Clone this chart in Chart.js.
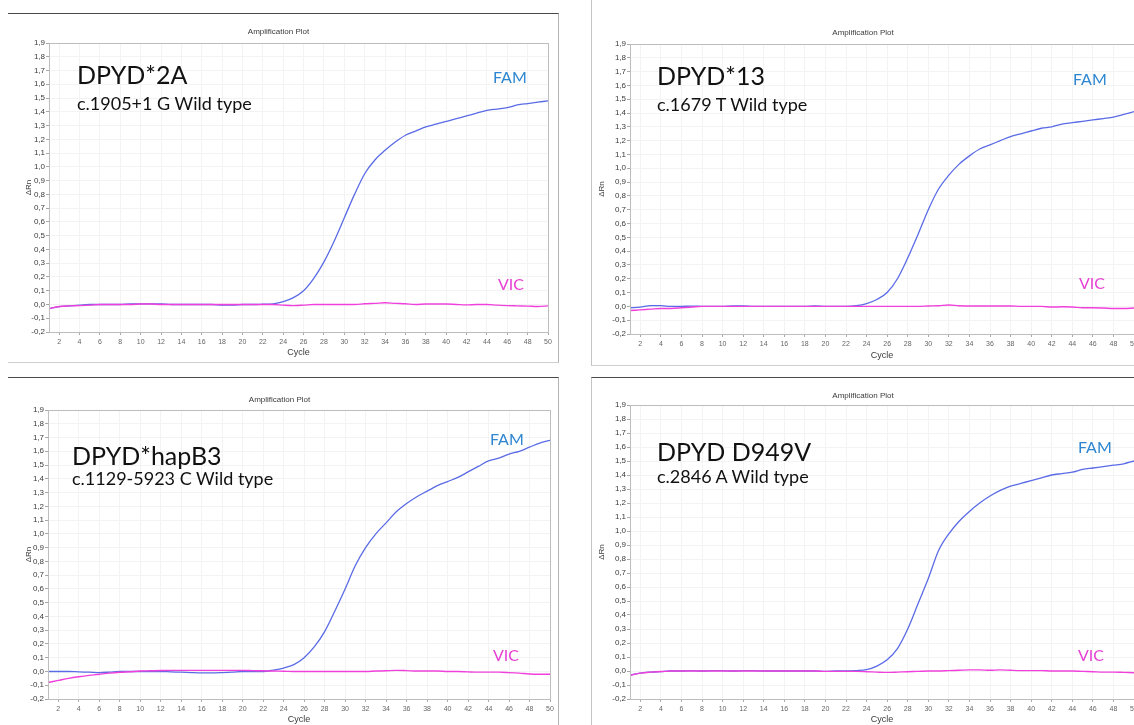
<!DOCTYPE html>
<html>
<head>
<meta charset="utf-8">
<script src="https://cdn.jsdelivr.net/npm/chart.js@4.4.0/dist/chart.umd.min.js"></script>
<style>
  body { margin: 0; width: 1134px; height: 725px; overflow: hidden; background: #fff; position: relative; font-family: Lato, 'Open Sans', sans-serif; }
  .frame { position: absolute; box-sizing: border-box; }
  canvas { position: absolute; }
  .lbl { position: absolute; line-height: 1; white-space: nowrap; }
  .gene { font-size: 25px; color: #111; }
  .allele { font-size: 18px; color: #111; }
  .fam { font-size: 16px; color: #2e86d1; }
  .vic { font-size: 16px; color: #e63fd3; }
</style>
</head>
<body>

<div class="frame" style="left:8px;top:13px;width:551px;height:350px;border-top:1px solid #4a4a4a;border-right:1px solid #b4b4b4;border-bottom:1px solid #cfcfcf"></div>
<div class="frame" style="left:591px;top:-1px;width:600px;height:367px;border-left:1px solid #c4c4c4;border-bottom:1px solid #cfcfcf"></div>
<div class="frame" style="left:8px;top:377px;width:551px;height:400px;border-top:1px solid #4a4a4a;border-right:1px solid #b4b4b4"></div>
<div class="frame" style="left:591px;top:377px;width:600px;height:400px;border-top:1px solid #4a4a4a;border-left:1px solid #c4c4c4"></div>

<canvas id="c1" width="548" height="347" style="left:9px;top:14px"></canvas>
<canvas id="c2" width="560" height="365" style="left:592px;top:0px"></canvas>
<canvas id="c3" width="548" height="347" style="left:9px;top:378px"></canvas>
<canvas id="c4" width="560" height="347" style="left:592px;top:378px"></canvas>

<div class="lbl gene" style="left:77px;top:62px">DPYD*2A</div>
<div class="lbl allele" style="left:77px;top:94px">c.1905+1 G Wild type</div>
<div class="lbl fam" style="left:493px;top:69px">FAM</div>
<div class="lbl vic" style="left:498px;top:276px">VIC</div>

<div class="lbl gene" style="left:657px;top:63px">DPYD*13</div>
<div class="lbl allele" style="left:657px;top:95px">c.1679 T Wild type</div>
<div class="lbl fam" style="left:1073px;top:71px">FAM</div>
<div class="lbl vic" style="left:1079px;top:275px">VIC</div>

<div class="lbl gene" style="left:72px;top:443px">DPYD*hapB3</div>
<div class="lbl allele" style="left:72px;top:469px">c.1129-5923 C Wild type</div>
<div class="lbl fam" style="left:490px;top:431px">FAM</div>
<div class="lbl vic" style="left:493px;top:647px">VIC</div>

<div class="lbl gene" style="left:657px;top:439px">DPYD D949V</div>
<div class="lbl allele" style="left:657px;top:467px">c.2846 A Wild type</div>
<div class="lbl fam" style="left:1078px;top:439px">FAM</div>
<div class="lbl vic" style="left:1078px;top:647px">VIC</div>

<script>
/* ── data ── */
const cycles = [1,2,3,4,5,6,7,8,9,10,11,12,13,14,15,16,17,18,19,20,21,22,23,24,25,
                26,27,28,29,30,31,32,33,34,35,36,37,38,39,40,41,42,43,44,45,46,47,48,49,50];
const cycleTicks = [2,4,6,8,10,12,14,16,18,20,22,24,26,28,30,32,34,36,38,40,42,44,46,48,50];
const yMin = -0.2;
const yMax = 1.9;

// DPYD*2A
const fam2A = [-0.03,-0.015,-0.01,-0.005,0,0,0,0,0.005,0.005,
               0.005,0.005,0,0,0,0,0,-0.005,-0.005,0,
               0,0.002,0.005,0.02,0.05,0.1,0.19,0.31,0.46,0.63,
               0.8,0.95,1.05,1.12,1.18,1.23,1.26,1.29,1.31,1.33,
               1.35,1.37,1.39,1.41,1.42,1.43,1.45,1.46,1.47,1.48];
const vic2A = [-0.03,-0.015,-0.01,-0.008,-0.005,0,0,0,0,0.003,
               0.003,0,0,0,0,0,0,0,0,0,
               0,0,0,-0.005,-0.008,-0.005,0,0,0,0,
               0,0.005,0.008,0.012,0.008,0.005,0,0.003,0.003,0.003,
               0,-0.003,0,0,-0.005,-0.008,-0.01,-0.012,-0.015,-0.01];

// DPYD*13
const fam13 = [-0.01,-0.005,0.005,0.005,0,0,0.002,0,0,0,
               0.003,0.003,0,0,0,0,0,0,0.003,0,
               0,0,0.005,0.02,0.05,0.1,0.2,0.35,0.52,0.7,
               0.85,0.95,1.03,1.09,1.14,1.17,1.2,1.23,1.25,1.27,
               1.29,1.3,1.32,1.33,1.34,1.35,1.36,1.37,1.39,1.41];
const vic13 = [-0.03,-0.025,-0.02,-0.015,-0.015,-0.01,-0.005,0,0,0,
               0,0,0,0,0,0,0,0,0,0,
               0,0,0,0,0,0,0,0,0,0.003,
               0.005,0.01,0.005,0.003,0.003,0.003,0.003,0.003,0,0,
               0,-0.005,-0.003,-0.005,-0.01,-0.01,-0.012,-0.015,-0.015,-0.012];

// DPYD*hapB3
const famB3 = [0,0,0,-0.003,-0.005,-0.008,-0.005,0,0,0,
               0,0,-0.003,-0.005,-0.008,-0.01,-0.01,-0.008,-0.005,0,
               0,0,0.01,0.025,0.05,0.1,0.18,0.29,0.44,0.6,
               0.77,0.9,1.0,1.08,1.16,1.22,1.27,1.31,1.35,1.38,
               1.41,1.45,1.49,1.53,1.55,1.58,1.6,1.63,1.66,1.68];
const vicB3 = [-0.08,-0.065,-0.05,-0.038,-0.028,-0.02,-0.012,-0.006,-0.002,0.003,
               0.005,0.007,0.008,0.008,0.008,0.008,0.008,0.008,0.008,0.008,
               0.006,0.005,0.003,0.002,0,0,0,0,0,0,
               0,0,0.003,0.005,0.008,0.006,0.003,0.003,0.003,0,
               0,-0.003,-0.005,-0.005,-0.005,-0.008,-0.012,-0.018,-0.02,-0.02];

// DPYD D949V
const famD949V = [-0.03,-0.015,-0.008,-0.004,0,0,0.003,0,0.003,0.003,
                  0,0.003,0.003,0,0,0,0,0,0,-0.003,
                  0,0,0.003,0.01,0.035,0.08,0.16,0.3,0.48,0.66,
                  0.86,0.98,1.07,1.14,1.2,1.25,1.29,1.32,1.34,1.36,
                  1.38,1.4,1.41,1.42,1.44,1.45,1.46,1.47,1.48,1.5];
const vicD949V = [-0.03,-0.015,-0.008,-0.004,0,0,0,0,0,0,
                  0,0,0,0,0,0,0,0,0,-0.003,
                  -0.003,-0.003,-0.003,-0.005,-0.008,-0.01,-0.008,-0.005,-0.003,0,
                  0,0.003,0.005,0.008,0.008,0.005,0.008,0.005,0.003,0.003,
                  0.003,0,0,0,-0.003,-0.005,-0.008,-0.008,-0.01,-0.012];

/* ── style ── */
const FAM_LINE = '#5a6be6';
const VIC_LINE = '#f040dc';
const GRID     = '#f3f3f3';
const AXIS     = '#a8a8a8';
const TXT      = '#3a3a3a';
const FONT     = "Arial, 'Liberation Sans', sans-serif";

// page geometry of each panel: canvas box, plot area, title / axis title positions
const panels = [
  { id: 'c1', fam: fam2A,    vic: vic2A,    cx: 9,   cy: 14,  ch: 347, area: { l: 49,  t: 43,  r: 548,  b: 332 }, titleY: 32,  cycleY: 353, rnX: 29 },
  { id: 'c2', fam: fam13,    vic: vic13,    cx: 592, cy: 0,   ch: 365, area: { l: 630, t: 44,  r: 1134, b: 334 }, titleY: 33,  cycleY: 356, rnX: 602 },
  { id: 'c3', fam: famB3,    vic: vicB3,    cx: 9,   cy: 378, ch: 347, area: { l: 48,  t: 410, r: 550,  b: 699 }, titleY: 400, cycleY: 721, rnX: 29 },
  { id: 'c4', fam: famD949V, vic: vicD949V, cx: 592, cy: 378, ch: 347, area: { l: 630, t: 405, r: 1134, b: 699 }, titleY: 396, cycleY: 721, rnX: 602 }
];

const plotFrame = {
  id: 'plotFrame',
  afterDraw(chart) {
    const a = chart.chartArea, ctx = chart.ctx;
    ctx.save();
    ctx.strokeStyle = '#bdbdbd';
    ctx.lineWidth = 1;
    ctx.strokeRect(Math.round(a.left) + 0.5, Math.round(a.top) + 0.5, Math.round(a.right - a.left), Math.round(a.bottom - a.top));
    ctx.restore();
  }
};

function makePanel(p) {
  const el = document.getElementById(p.id);
  const yAxisW = p.area.l - p.cx;
  const titleH = p.area.t - p.cy;
  const xAxisH = p.cy + p.ch - p.area.b;
  const padR = p.cx + el.width - p.area.r;
  const tTop = p.titleY - p.cy - 4.8;

  new Chart(el, {
    type: 'line',
    data: {
      labels: cycles,
      datasets: [
        {
          label: 'VIC',
          data: cycles.map((c, i) => ({ x: c, y: p.vic[i] })),
          borderColor: VIC_LINE,
          borderWidth: 1.4,
          pointRadius: 0,
          cubicInterpolationMode: 'monotone',
          order: 0
        },
        {
          label: 'FAM',
          data: cycles.map((c, i) => ({ x: c, y: p.fam[i] })),
          borderColor: FAM_LINE,
          borderWidth: 1.3,
          pointRadius: 0,
          cubicInterpolationMode: 'monotone',
          order: 1
        }
      ]
    },
    options: {
      responsive: false,
      animation: false,
      events: [],
      layout: { padding: { left: 0, top: 0, right: padR, bottom: 0 } },
      plugins: {
        legend: { display: false },
        tooltip: { enabled: false },
        title: {
          display: true,
          text: 'Amplification Plot',
          color: TXT,
          font: { family: FONT, size: 8, weight: 'normal' },
          padding: { top: tTop, bottom: titleH - tTop - 9.6 }
        }
      },
      scales: {
        x: {
          type: 'linear',
          min: 1,
          max: 50,
          afterBuildTicks: axis => { axis.ticks = cycleTicks.map(v => ({ value: v })); },
          afterFit: s => { s.height = xAxisH; },
          grid: { color: GRID, tickColor: AXIS, tickLength: 3 },
          border: { color: AXIS },
          ticks: { color: '#666', font: { family: FONT, size: 7 }, padding: 3, maxRotation: 0, autoSkip: false },
          title: {
            display: true,
            text: 'Cycle',
            color: TXT,
            font: { family: FONT, size: 9 },
            padding: { top: 0, bottom: Math.max(0, p.cy + p.ch - p.cycleY - 5.4) }
          }
        },
        y: {
          min: yMin,
          max: yMax,
          afterFit: s => { s.width = yAxisW; },
          grid: { color: GRID, tickColor: AXIS, tickLength: 3 },
          border: { color: AXIS },
          ticks: {
            stepSize: 0.1,
            autoSkip: false,
            color: TXT,
            padding: 1,
            font: { family: FONT, size: 8 },
            callback: v => v.toFixed(1).replace('.', ',')
          },
          title: {
            display: true,
            text: 'ΔRn',
            color: TXT,
            font: { family: FONT, size: 8 },
            padding: { top: p.rnX - p.cx - 4.8, bottom: 0 }
          }
        }
      }
    },
    plugins: [plotFrame]
  });
}

panels.forEach(makePanel);
</script>
</body>
</html>
